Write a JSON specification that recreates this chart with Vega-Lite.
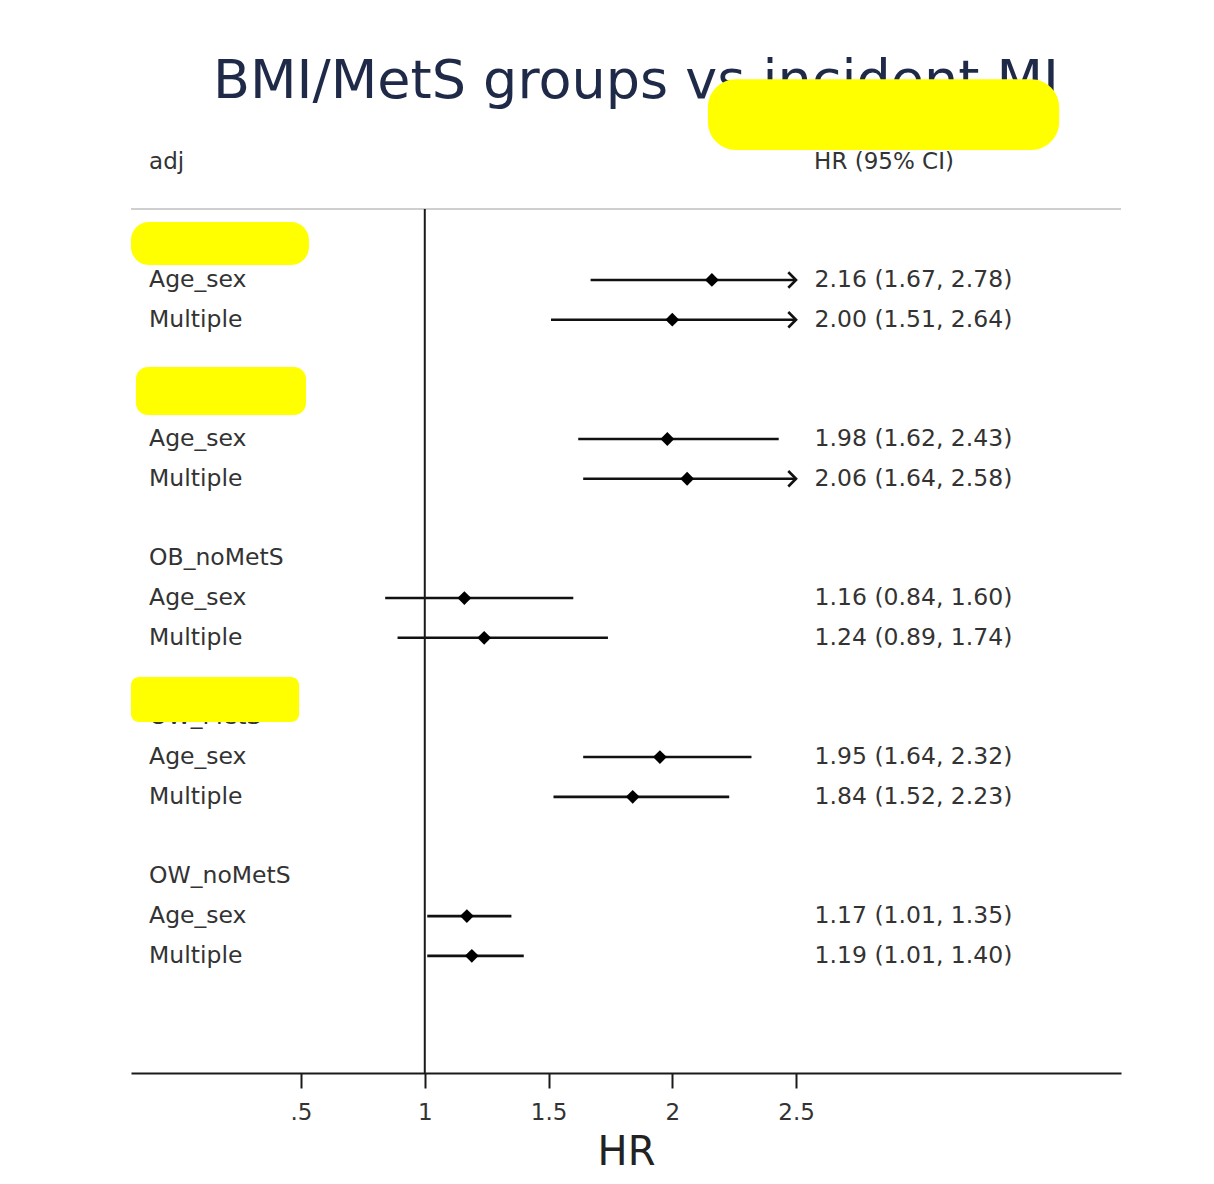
{
  "$schema": "https://vega.github.io/schema/vega-lite/v6.json",
  "width": 990,
  "height": 1043,
  "padding": {"left": 130, "top": 30, "right": 10, "bottom": 5},
  "background": "white",
  "config": {
    "view": {"stroke": null},
    "axisX": {
      "grid": false,
      "domainColor": "#1a1a1a",
      "domainWidth": 2,
      "tickColor": "#1a1a1a",
      "tickWidth": 2,
      "tickSize": 15,
      "labelFont": "DejaVu Sans",
      "labelFontSize": 23,
      "labelColor": "#333333",
      "labelPadding": 13,
      "titleFont": "DejaVu Sans",
      "titleFontSize": 40,
      "titleFontWeight": "normal",
      "titleColor": "#222222",
      "titlePadding": 8
    }
  },
  "data": {
    "values": [
      {"row": 1, "label": "NW_MetS", "hr": null, "lo": null, "hi": null, "ci": null},
      {"row": 2, "label": "Age_sex", "hr": 2.16, "lo": 1.67, "hi": 2.78, "ci": "2.16 (1.67, 2.78)"},
      {"row": 3, "label": "Multiple", "hr": 2.00, "lo": 1.51, "hi": 2.64, "ci": "2.00 (1.51, 2.64)"},
      {"row": 5, "label": "OB_MetS", "hr": null, "lo": null, "hi": null, "ci": null},
      {"row": 6, "label": "Age_sex", "hr": 1.98, "lo": 1.62, "hi": 2.43, "ci": "1.98 (1.62, 2.43)"},
      {"row": 7, "label": "Multiple", "hr": 2.06, "lo": 1.64, "hi": 2.58, "ci": "2.06 (1.64, 2.58)"},
      {"row": 9, "label": "OB_noMetS", "hr": null, "lo": null, "hi": null, "ci": null},
      {"row": 10, "label": "Age_sex", "hr": 1.16, "lo": 0.84, "hi": 1.60, "ci": "1.16 (0.84, 1.60)"},
      {"row": 11, "label": "Multiple", "hr": 1.24, "lo": 0.89, "hi": 1.74, "ci": "1.24 (0.89, 1.74)"},
      {"row": 13, "label": "OW_MetS", "hr": null, "lo": null, "hi": null, "ci": null},
      {"row": 14, "label": "Age_sex", "hr": 1.95, "lo": 1.64, "hi": 2.32, "ci": "1.95 (1.64, 2.32)"},
      {"row": 15, "label": "Multiple", "hr": 1.84, "lo": 1.52, "hi": 2.23, "ci": "1.84 (1.52, 2.23)"},
      {"row": 17, "label": "OW_noMetS", "hr": null, "lo": null, "hi": null, "ci": null},
      {"row": 18, "label": "Age_sex", "hr": 1.17, "lo": 1.01, "hi": 1.35, "ci": "1.17 (1.01, 1.35)"},
      {"row": 19, "label": "Multiple", "hr": 1.19, "lo": 1.01, "hi": 1.40, "ci": "1.19 (1.01, 1.40)"}
    ]
  },
  "layer": [
    {
      "transform": [{"filter": "datum.hi != null && datum.hi <= 2.5"}],
      "mark": {"type": "rule", "color": "#111111", "strokeWidth": 2.6},
      "encoding": {
        "x": {"field": "lo", "type": "quantitative", "scale": {"domain": [-0.187, 3.813], "zero": false, "nice": false}, "axis": {"values": [0.5, 1, 1.5, 2, 2.5], "labelExpr": "datum.value == 0.5 ? '.5' : format(datum.value, '~g')"}, "title": "HR"},
        "x2": {"field": "hi"},
        "y": {"field": "row", "type": "quantitative", "scale": {"domain": [-4.287, 21.946], "reverse": true, "zero": false, "nice": false}, "axis": null}
      }
    },
    {
      "data": {"values": [{}]},
      "mark": {"type": "rule", "color": "#cfcfcf", "strokeWidth": 2},
      "encoding": {
        "x": {"datum": -0.187},
        "x2": {"datum": 3.813},
        "y": {"datum": 0.215}
      }
    },
    {
      "data": {"values": [{}]},
      "mark": {"type": "rule", "color": "#1a1a1a", "strokeWidth": 2},
      "encoding": {
        "x": {"datum": 1},
        "y": {"datum": 0.215},
        "y2": {"datum": 21.946}
      }
    },
    {
      "transform": [{"filter": "datum.hi != null && datum.hi > 2.5"}],
      "mark": {"type": "rule", "color": "#111111", "strokeWidth": 2.6},
      "encoding": {
        "x": {"field": "lo", "type": "quantitative", "title": "HR"},
        "x2": {"datum": 2.5},
        "y": {"field": "row", "type": "quantitative"}
      }
    },
    {
      "transform": [{"filter": "datum.hi != null && datum.hi > 2.5"}],
      "mark": {"type": "point", "shape": "M -1 -1 L 0 0 L -1 1", "filled": false, "stroke": "#111111", "strokeWidth": 2.6, "size": 240, "opacity": 1},
      "encoding": {
        "x": {"datum": 2.5},
        "y": {"field": "row", "type": "quantitative"}
      }
    },
    {
      "transform": [{"filter": "datum.hr != null"}],
      "mark": {"type": "point", "shape": "diamond", "filled": true, "color": "#000000", "size": 190, "opacity": 1},
      "encoding": {
        "x": {"field": "hr", "type": "quantitative", "title": "HR"},
        "y": {"field": "row", "type": "quantitative"}
      }
    },
    {
      "mark": {"type": "text", "align": "left", "baseline": "middle", "font": "DejaVu Sans", "fontSize": 23.5, "color": "#333333"},
      "encoding": {
        "x": {"datum": -0.114},
        "y": {"field": "row", "type": "quantitative"},
        "text": {"field": "label"}
      }
    },
    {
      "transform": [{"filter": "datum.ci != null"}],
      "mark": {"type": "text", "align": "left", "baseline": "middle", "font": "DejaVu Sans", "fontSize": 23.5, "color": "#333333"},
      "encoding": {
        "x": {"datum": 2.575},
        "y": {"field": "row", "type": "quantitative"},
        "text": {"field": "ci"}
      }
    },
    {
      "data": {"values": [{}]},
      "mark": {"type": "text", "align": "left", "baseline": "middle", "font": "DejaVu Sans", "fontSize": 23, "color": "#333333", "text": "adj"},
      "encoding": {
        "x": {"datum": -0.114},
        "y": {"datum": -0.967}
      }
    },
    {
      "data": {"values": [{}]},
      "mark": {"type": "text", "align": "left", "baseline": "middle", "font": "DejaVu Sans", "fontSize": 23, "color": "#333333", "text": "HR (95% CI)"},
      "encoding": {
        "x": {"datum": 2.573},
        "y": {"datum": -0.967}
      }
    },
    {
      "data": {"values": [{}]},
      "mark": {"type": "text", "align": "left", "baseline": "middle", "font": "DejaVu Sans", "fontSize": 54, "color": "#1f2a48", "text": "BMI/MetS groups vs incident MI"},
      "encoding": {
        "x": {"datum": 0.144},
        "y": {"datum": -2.979}
      }
    },
    {
      "data": {"values": [{}]},
      "mark": {"type": "rect", "color": "#ffff00", "cornerRadius": 28},
      "encoding": {
        "x": {"datum": 2.144}, "x2": {"datum": 3.563},
        "y": {"datum": -3.05}, "y2": {"datum": -1.269}
      }
    },
    {
      "data": {"values": [{}]},
      "mark": {"type": "rect", "color": "#ffff00", "cornerRadius": 18},
      "encoding": {
        "x": {"datum": -0.187}, "x2": {"datum": 0.532},
        "y": {"datum": 0.542}, "y2": {"datum": 1.624}
      }
    },
    {
      "data": {"values": [{}]},
      "mark": {"type": "rect", "color": "#ffff00", "cornerRadius": 12},
      "encoding": {
        "x": {"datum": -0.167}, "x2": {"datum": 0.52},
        "y": {"datum": 4.189}, "y2": {"datum": 5.396}
      }
    },
    {
      "data": {"values": [{}]},
      "mark": {"type": "rect", "color": "#ffff00", "cornerRadius": 8},
      "encoding": {
        "x": {"datum": -0.187}, "x2": {"datum": 0.492},
        "y": {"datum": 11.986}, "y2": {"datum": 13.118}
      }
    }
  ]
}
